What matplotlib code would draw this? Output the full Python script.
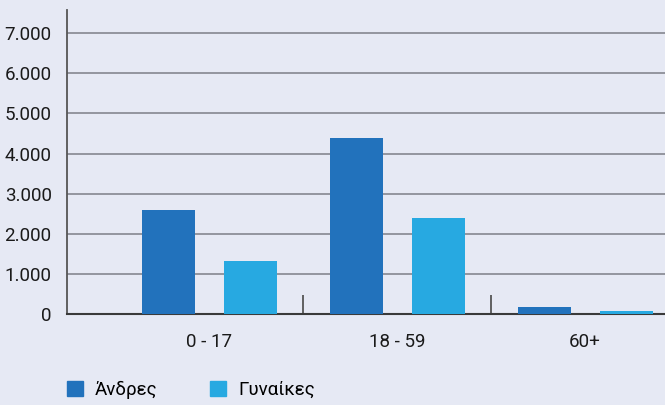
from matplotlib import pyplot as plt
from matplotlib.patches import Patch
import numpy as np

plt.rcParams['font.family'] = ['Liberation Sans Narrow', 'Roboto', 'DejaVu Sans']

categories = ["0 - 17", "18 - 59", "60+"]
andres = [2600, 4400, 175]
gynaikes = [1330, 2400, 75]
yticks = [0, 1000, 2000, 3000, 4000, 5000, 6000, 7000]
ylabels = ["0", "1.000", "2.000", "3.000", "4.000", "5.000", "6.000", "7.000"]

bg = "#e6e9f4"
c_andres = "#2272bc"
c_gyn = "#27a9e1"

fig = plt.figure(figsize=(6.65, 4.05), dpi=100, facecolor=bg)
ax = fig.add_axes([67/665, 1 - 314/405, 1 - 67/665, 304/405])
ax.set_facecolor(bg)

x = np.arange(len(categories))
w = 0.282
ax.bar(x - 0.217, andres, w, color=c_andres, zorder=3)
ax.bar(x + 0.219, gynaikes, w, color=c_gyn, zorder=3)

ax.set_xlim(-0.755, 2.426)
ax.set_ylim(0, 7580)
ax.set_yticks(yticks)
ax.set_yticklabels(ylabels)
ax.yaxis.grid(True, color="#8d8f98", linewidth=1.3)
ax.set_axisbelow(True)
ax.tick_params(axis="y", length=0, pad=11, labelsize=13.5, colors="#1a1a1a")

ax.set_xticks(x)
ax.set_xticklabels(categories)
ax.tick_params(axis="x", which="major", length=0, pad=14, labelsize=13.5, colors="#1a1a1a")
ax.set_xticks([0.5, 1.5], minor=True)
ax.tick_params(axis="x", which="minor", direction="in", length=14, width=1.3, color="#555555")

for s in ["top", "right"]:
    ax.spines[s].set_visible(False)
ax.spines["left"].set_color("#555555")
ax.spines["left"].set_linewidth(1.3)
ax.spines["bottom"].set_color("#3a3a3a")
ax.spines["bottom"].set_linewidth(1.5)

handles = [Patch(color=c_andres, label="Άνδρες"), Patch(color=c_gyn, label="Γυναίκες")]
fig.legend(handles=handles, loc="center left", bbox_to_anchor=(63/665, 1 - 390/405),
           ncol=2, frameon=False, fontsize=13.5, handlelength=0.85, handleheight=0.85,
           handletextpad=0.65, columnspacing=2.8, borderpad=0.2, borderaxespad=0)

plt.savefig("out.png", dpi=100, facecolor=bg)
plt.close()
